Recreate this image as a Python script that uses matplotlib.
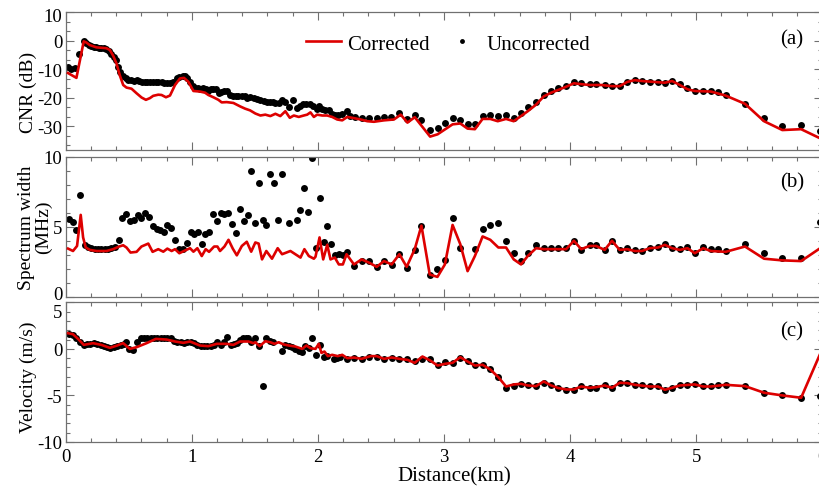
import matplotlib
matplotlib.use('Agg')
import matplotlib.pyplot as plt
from matplotlib.ticker import MultipleLocator
from matplotlib.lines import Line2D
from matplotlib.transforms import ScaledTranslation

plt.rcParams['font.family'] = ['Liberation Serif', 'DejaVu Serif']
plt.rcParams['axes.unicode_minus'] = False

# ---- (a) CNR ----
cnr_dist_unc = [0.019, 0.045, 0.072, 0.106, 0.143, 0.164, 0.186, 0.204, 0.225, 0.244, 0.265, 0.283, 0.305, 0.323,
                0.345, 0.363, 0.382, 0.397, 0.416, 0.429, 0.456, 0.477, 0.498, 0.517, 0.541, 0.562, 0.583, 0.602,
                0.628, 0.647, 0.668, 0.689, 0.713, 0.734, 0.760, 0.779, 0.800, 0.827, 0.853, 0.880, 0.901, 0.927,
                0.946, 0.965, 0.986, 1.007, 1.026, 1.047, 1.065, 1.092, 1.110, 1.131, 1.150, 1.171, 1.192, 1.214,
                1.230, 1.256, 1.277, 1.304, 1.330, 1.351, 1.370, 1.396, 1.423, 1.441, 1.464, 1.490, 1.517, 1.544,
                1.570, 1.597, 1.618, 1.644, 1.663, 1.689, 1.716, 1.742, 1.769, 1.803, 1.835, 1.862, 1.883, 1.909,
                1.936, 1.962, 1.989, 2.010, 2.034, 2.060, 2.087, 2.108, 2.134, 2.161, 2.193, 2.227, 2.254, 2.291,
                2.352, 2.405, 2.466, 2.524, 2.582, 2.646, 2.710, 2.768, 2.821, 2.890, 2.949, 3.007, 3.068, 3.129,
                3.187, 3.245, 3.306, 3.367, 3.426, 3.492, 3.553, 3.611, 3.664, 3.730, 3.791, 3.850, 3.908, 3.969,
                4.030, 4.088, 4.154, 4.207, 4.274, 4.332, 4.393, 4.454, 4.512, 4.570, 4.631, 4.698, 4.751, 4.809,
                4.870, 4.931, 4.989, 5.055, 5.116, 5.175, 5.233, 5.387, 5.538, 5.683, 5.832, 5.983]
cnr_unc = [-9.2, -9.8, -9.4, -4.6, -0.2, -0.8, -1.4, -1.8, -2.2, -2.3, -2.4, -2.5, -2.6, -2.9,
           -3.5, -4.6, -5.7, -6.9, -9.2, -10.9, -12.4, -13.0, -13.6, -13.8, -14.1, -13.8, -14.1, -14.4,
           -14.5, -14.5, -14.4, -14.4, -14.5, -14.6, -14.6, -14.7, -14.7, -14.7, -14.5, -13.2, -12.6, -12.3,
           -12.4, -13.2, -14.4, -15.9, -16.4, -16.6, -16.8, -16.7, -16.9, -17.5, -17.0, -16.9, -16.8, -18.4,
           -17.9, -17.5, -17.6, -19.0, -19.5, -19.3, -19.3, -19.5, -19.5, -19.9, -19.8, -20.1, -20.5, -20.9,
           -21.0, -21.3, -21.4, -21.5, -21.8, -21.8, -20.9, -21.6, -23.2, -20.9, -23.7, -22.8, -22.2, -22.2,
           -22.2, -23.0, -23.9, -23.0, -23.9, -24.1, -24.4, -25.5, -25.9, -25.9, -25.5, -24.7, -26.2, -26.7,
           -27.0, -27.0, -27.0, -26.7, -26.7, -25.3, -27.4, -26.1, -27.8, -31.3, -30.7, -29.0, -27.2, -27.8,
           -29.3, -29.3, -26.4, -25.9, -26.4, -26.1, -27.0, -25.3, -23.3, -21.5, -19.0, -17.5, -16.7, -15.9,
           -14.6, -14.7, -15.3, -15.2, -15.5, -15.9, -15.9, -14.4, -13.8, -14.1, -14.5, -14.6, -14.9, -14.1,
           -15.3, -16.7, -17.6, -17.6, -17.6, -18.0, -18.9, -22.1, -27.0, -29.9, -29.5, -31.6]

cnr_dist_cor = [0.018, 0.085, 0.143, 0.164, 0.191, 0.244, 0.323, 0.350, 0.376, 0.403, 0.429, 0.456, 0.482, 0.522,
                0.562, 0.602, 0.636, 0.668, 0.694, 0.734, 0.760, 0.795, 0.827, 0.867, 0.906, 0.938, 0.973, 1.013,
                1.065, 1.105, 1.131, 1.171, 1.211, 1.237, 1.277, 1.330, 1.383, 1.423, 1.462, 1.504, 1.544, 1.583,
                1.623, 1.663, 1.702, 1.742, 1.777, 1.809, 1.848, 1.888, 1.915, 1.941, 1.968, 1.994, 2.034, 2.074,
                2.113, 2.153, 2.193, 2.233, 2.272, 2.339, 2.392, 2.444, 2.524, 2.603, 2.657, 2.710, 2.768, 2.890,
                2.949, 3.068, 3.129, 3.187, 3.245, 3.306, 3.367, 3.426, 3.492, 3.553, 3.611, 3.664, 3.730, 3.791,
                3.850, 3.908, 3.969, 4.030, 4.088, 4.154, 4.247, 4.332, 4.393, 4.454, 4.512, 4.570, 4.751, 4.809,
                4.870, 4.931, 4.989, 5.116, 5.233, 5.387, 5.538, 5.683, 5.832, 5.997]
cnr_cor = [-11.3, -13.0, -0.2, -0.6, -1.5, -2.3, -2.6, -3.2, -5.2, -8.0, -12.1, -15.5, -16.4, -16.8,
           -18.4, -19.9, -20.7, -20.1, -19.3, -18.9, -19.0, -19.8, -19.2, -15.5, -13.2, -13.0, -14.4, -17.6,
           -17.8, -18.2, -19.0, -19.8, -20.7, -21.6, -21.5, -21.8, -23.0, -23.8, -24.4, -25.5, -26.2, -25.9,
           -26.4, -25.6, -26.4, -24.7, -27.0, -26.2, -26.7, -26.2, -25.9, -25.1, -26.7, -25.9, -26.2, -26.2,
           -26.7, -27.6, -27.9, -26.7, -27.0, -27.6, -28.2, -28.4, -27.9, -27.6, -25.9, -28.7, -26.8, -33.6,
           -32.8, -29.3, -29.0, -30.8, -31.0, -27.4, -27.4, -28.2, -27.4, -28.2, -26.4, -24.7, -22.4, -19.5,
           -18.2, -17.2, -16.1, -14.9, -15.2, -15.5, -15.5, -15.9, -15.9, -14.4, -13.8, -14.1, -14.7, -14.1,
           -15.5, -17.0, -17.6, -17.8, -19.2, -22.1, -28.2, -31.3, -31.0, -34.5]

# ---- (b) spectrum width ----
sw_dist_unc = [0.026, 0.058, 0.085, 0.117, 0.151, 0.178, 0.204, 0.231, 0.257, 0.283, 0.310, 0.337, 0.363, 0.390,
               0.419, 0.445, 0.477, 0.509, 0.541, 0.570, 0.601, 0.628, 0.660, 0.689, 0.721, 0.747, 0.779, 0.806,
               0.837, 0.867, 0.901, 0.927, 0.959, 0.991, 1.018, 1.052, 1.079, 1.105, 1.140, 1.171, 1.198, 1.230,
               1.259, 1.291, 1.317, 1.349, 1.383, 1.410, 1.442, 1.470, 1.504, 1.536, 1.565, 1.591, 1.623, 1.655,
               1.684, 1.716, 1.774, 1.835, 1.862, 1.893, 1.922, 1.954, 1.986, 2.015, 2.047, 2.074, 2.105, 2.134,
               2.166, 2.198, 2.227, 2.286, 2.346, 2.405, 2.466, 2.524, 2.585, 2.646, 2.704, 2.768, 2.821, 2.887,
               2.948, 3.006, 3.068, 3.129, 3.245, 3.306, 3.367, 3.431, 3.492, 3.553, 3.611, 3.664, 3.730, 3.791,
               3.850, 3.908, 3.969, 4.030, 4.088, 4.154, 4.207, 4.274, 4.332, 4.393, 4.454, 4.512, 4.570, 4.631,
               4.698, 4.751, 4.809, 4.870, 4.931, 4.989, 5.055, 5.116, 5.175, 5.233, 5.387, 5.538, 5.683, 5.832,
               5.983]
sw_unc = [5.54, 5.35, 4.77, 7.23, 3.69, 3.55, 3.45, 3.42, 3.38, 3.42, 3.38, 3.42, 3.47, 3.57,
          4.05, 5.61, 5.91, 5.42, 5.47, 5.79, 5.59, 5.95, 5.66, 5.06, 4.82, 4.77, 4.63, 5.11,
          4.87, 4.05, 3.38, 3.38, 3.79, 4.58, 4.46, 4.58, 3.74, 4.46, 4.58, 5.86, 5.42, 5.95,
          5.91, 5.95, 5.18, 4.51, 6.27, 5.37, 5.79, 8.99, 5.23, 8.14, 5.47, 5.11, 8.74, 8.14,
          5.47, 8.74, 5.23, 5.47, 6.15, 7.78, 6.02, 9.92, 3.45, 7.04, 3.86, 5.01, 3.74, 2.94,
          3.07, 2.94, 3.19, 2.17, 2.53, 2.53, 2.12, 2.53, 2.22, 3.07, 2.01, 3.33, 5.01, 1.57,
          1.93, 2.61, 5.59, 3.45, 3.38, 4.82, 5.11, 5.25, 3.98, 3.09, 2.53, 3.09, 3.69, 3.50,
          3.45, 3.45, 3.45, 3.98, 3.33, 3.66, 3.66, 3.30, 3.98, 3.33, 3.45, 3.30, 3.25, 3.50,
          3.57, 3.74, 3.50, 3.38, 3.55, 3.09, 3.57, 3.38, 3.38, 3.25, 3.74, 3.14, 2.73, 2.73,
          5.35]

sw_dist_cor = [0.019, 0.058, 0.090, 0.119, 0.138, 0.159, 0.191, 0.244, 0.323, 0.376, 0.424, 0.456, 0.482, 0.514,
               0.562, 0.601, 0.655, 0.689, 0.734, 0.774, 0.806, 0.840, 0.867, 0.901, 0.938, 0.986, 1.013, 1.044,
               1.079, 1.110, 1.137, 1.177, 1.203, 1.224, 1.259, 1.291, 1.325, 1.357, 1.397, 1.436, 1.471, 1.504,
               1.530, 1.557, 1.591, 1.636, 1.681, 1.716, 1.782, 1.862, 1.893, 1.928, 1.968, 1.981, 2.013, 2.042,
               2.074, 2.100, 2.134, 2.166, 2.198, 2.227, 2.286, 2.346, 2.405, 2.466, 2.524, 2.585, 2.646, 2.704,
               2.768, 2.821, 2.887, 2.948, 3.007, 3.068, 3.129, 3.187, 3.245, 3.306, 3.367, 3.431, 3.492, 3.553,
               3.611, 3.664, 3.730, 3.791, 3.969, 4.030, 4.088, 4.154, 4.207, 4.274, 4.332, 4.393, 4.454, 4.512,
               4.570, 4.631, 4.698, 4.751, 4.809, 4.870, 4.931, 4.989, 5.055, 5.116, 5.233, 5.387, 5.538, 5.683,
               5.832, 5.983, 6.000]
sw_cor = [3.42, 3.25, 3.61, 5.83, 4.22, 3.50, 3.33, 3.25, 3.25, 3.38, 3.57, 3.66, 3.50, 3.14,
          3.19, 3.57, 3.78, 3.19, 3.38, 3.20, 3.42, 3.25, 3.38, 3.09, 3.25, 3.45, 3.20, 3.45,
          2.89, 3.38, 3.19, 3.57, 3.57, 3.25, 3.57, 4.05, 3.42, 2.94, 3.61, 3.91, 3.20, 3.86,
          3.78, 2.65, 3.25, 2.70, 3.45, 3.02, 3.25, 2.78, 3.38, 2.89, 2.70, 2.84, 4.22, 2.65,
          3.69, 2.65, 2.78, 2.29, 2.29, 3.02, 2.29, 2.65, 2.42, 2.12, 2.53, 2.29, 3.02, 2.12,
          3.38, 5.06, 1.57, 1.40, 2.29, 5.11, 3.74, 1.81, 2.89, 4.29, 4.05, 3.50, 3.50, 2.65,
          2.29, 2.89, 3.45, 3.38, 3.38, 3.98, 3.38, 3.61, 3.61, 3.33, 3.98, 3.33, 3.38, 3.25,
          3.25, 3.45, 3.50, 3.69, 3.45, 3.33, 3.45, 3.09, 3.45, 3.25, 3.19, 3.57, 2.70, 2.58,
          2.53, 3.45, 5.05]

# ---- (c) velocity ----
vel_dist_unc = [0.027, 0.058, 0.085, 0.117, 0.143, 0.170, 0.196, 0.223, 0.249, 0.276, 0.302, 0.329, 0.355, 0.382,
                0.408, 0.435, 0.461, 0.482, 0.503, 0.530, 0.567, 0.594, 0.620, 0.647, 0.673, 0.700, 0.726, 0.753,
                0.779, 0.806, 0.832, 0.859, 0.885, 0.912, 0.938, 0.965, 0.991, 1.018, 1.044, 1.071, 1.097, 1.124,
                1.150, 1.177, 1.203, 1.230, 1.256, 1.283, 1.309, 1.336, 1.362, 1.383, 1.405, 1.426, 1.447, 1.468,
                1.500, 1.532, 1.565, 1.591, 1.618, 1.644, 1.716, 1.742, 1.769, 1.795, 1.822, 1.848, 1.875, 1.896,
                1.928, 1.954, 1.986, 2.015, 2.047, 2.074, 2.127, 2.153, 2.179, 2.227, 2.286, 2.346, 2.405, 2.466,
                2.524, 2.585, 2.646, 2.710, 2.768, 2.829, 2.890, 2.949, 3.007, 3.068, 3.129, 3.187, 3.245, 3.306,
                3.367, 3.431, 3.492, 3.553, 3.611, 3.664, 3.730, 3.791, 3.850, 3.908, 3.969, 4.030, 4.088, 4.154,
                4.207, 4.274, 4.332, 4.393, 4.454, 4.512, 4.570, 4.631, 4.698, 4.751, 4.809, 4.870, 4.931, 4.989,
                5.055, 5.116, 5.175, 5.233, 5.387, 5.538, 5.683, 5.832, 5.983]
vel_unc = [1.61, 1.50, 1.15, 0.79, 0.43, 0.47, 0.54, 0.61, 0.54, 0.43, 0.29, 0.18, 0.11, 0.18,
           0.36, 0.43, 0.47, 0.79, 0.00, -0.07, 0.79, 1.18, 1.18, 1.18, 1.18, 1.18, 1.18, 1.18,
           1.18, 1.18, 1.15, 0.89, 0.79, 0.71, 0.65, 0.71, 0.79, 0.65, 0.43, 0.36, 0.29, 0.29,
           0.36, 0.43, 0.79, 0.43, 0.79, 1.25, 0.43, 0.47, 0.65, 1.00, 1.15, 1.21, 1.21, 0.71,
           1.18, 0.29, -4.03, 1.18, 0.89, 0.71, -0.18, 0.43, 0.36, 0.25, 0.00, -0.18, -0.35, 0.36,
           0.07, 1.15, -0.64, 0.43, -0.89, -0.78, -1.07, -1.00, -0.89, -1.14, -1.00, -1.14, -0.89, -0.89,
           -1.14, -1.00, -1.14, -1.14, -1.32, -1.07, -1.14, -1.71, -1.36, -1.50, -1.00, -1.25, -1.71, -1.71,
           -2.14, -3.04, -4.21, -4.00, -3.75, -3.93, -4.00, -3.64, -3.93, -4.21, -4.39, -4.39, -4.04, -4.18,
           -4.18, -3.93, -4.18, -3.68, -3.68, -3.86, -3.93, -4.04, -4.04, -4.46, -4.21, -3.93, -3.93, -3.82,
           -4.04, -4.04, -3.93, -3.93, -4.04, -4.71, -5.00, -5.25, -5.07]

vel_dist_cor = [0.019, 0.058, 0.098, 0.143, 0.217, 0.283, 0.350, 0.408, 0.456, 0.509, 0.562, 0.641, 0.715, 0.800,
                0.867, 0.933, 0.986, 1.065, 1.131, 1.198, 1.277, 1.330, 1.383, 1.450, 1.489, 1.504, 1.538, 1.583,
                1.623, 1.655, 1.689, 1.729, 1.769, 1.822, 1.875, 1.909, 1.941, 1.981, 2.007, 2.028, 2.052, 2.079,
                2.113, 2.158, 2.193, 2.233, 2.286, 2.346, 2.418, 2.466, 2.524, 2.585, 2.646, 2.710, 2.768, 2.829,
                2.890, 2.949, 3.007, 3.068, 3.129, 3.187, 3.245, 3.306, 3.367, 3.431, 3.492, 3.553, 3.611, 3.664,
                3.730, 3.791, 3.850, 3.908, 3.969, 4.030, 4.088, 4.154, 4.207, 4.274, 4.332, 4.393, 4.454, 4.512,
                4.631, 4.698, 4.751, 4.809, 4.870, 4.989, 5.055, 5.116, 5.233, 5.387, 5.538, 5.683, 5.832, 6.000]
vel_cor = [1.68, 1.57, 1.07, 0.43, 0.61, 0.43, 0.11, 0.36, 0.61, 0.00, 0.18, 0.61, 1.07, 1.00,
           0.79, 0.65, 0.79, 0.36, 0.29, 0.54, 0.54, 0.43, 0.79, 0.79, 0.61, 0.71, 0.29, 0.82,
           0.71, 0.54, 0.71, 0.47, 0.36, 0.25, 0.00, 0.36, 0.07, 0.00, 0.54, -0.43, -0.29, -0.78,
           -0.64, -0.78, -0.64, -1.00, -0.93, -1.07, -0.78, -0.78, -1.07, -0.93, -1.07, -1.18, -1.50, -0.82,
           -1.25, -1.79, -1.61, -1.50, -0.89, -1.36, -1.79, -1.71, -2.21, -3.04, -4.04, -3.82, -3.75, -3.93,
           -4.00, -3.50, -3.93, -4.21, -4.36, -4.36, -4.04, -4.18, -4.11, -3.93, -4.18, -3.64, -3.68, -3.86,
           -4.04, -4.04, -4.39, -4.18, -3.93, -3.82, -4.04, -4.04, -3.86, -4.00, -4.71, -5.00, -5.25, 0.00]

red = '#dd0000'
gray = '#707070'

fig = plt.figure(figsize=(8.2, 4.89), dpi=100)
left, width = 65.7 / 820, 756.6 / 820
ax1 = fig.add_axes([left, 1 - 151 / 489, width, 137.7 / 489])
ax2 = fig.add_axes([left, 1 - 297.5 / 489, width, 140 / 489])
ax3 = fig.add_axes([left, 1 - 443 / 489, width, 139.7 / 489])

panels = [
    (ax1, cnr_dist_unc, cnr_unc, cnr_dist_cor, cnr_cor),
    (ax2, sw_dist_unc, sw_unc, sw_dist_cor, sw_cor),
    (ax3, vel_dist_unc, vel_unc, vel_dist_cor, vel_cor),
]
for ax, xu, yu, xc, yc in panels:
    ax.plot(xu, yu, 'o', color='black', ms=5, mew=0, zorder=2)
    ax.plot(xc, yc, '-', color=red, lw=1.9, zorder=3)
    ax.set_xlim(0, 6)
    ax.xaxis.set_major_locator(MultipleLocator(1))
    ax.xaxis.set_minor_locator(MultipleLocator(0.2))
    ax.tick_params(which='both', direction='in', top=True, right=True, color=gray, width=0.8,
                   labelsize=13.5)
    ax.tick_params(which='major', length=6)
    ax.tick_params(which='minor', length=3)
    ax.tick_params(axis='y', pad=2.5)
    ax.tick_params(axis='x', pad=4)
    for s in ax.spines.values():
        s.set_color(gray)
        s.set_linewidth(0.9)

ax1.set_ylim(-38.3, 10)
ax1.set_yticks([-30, -20, -10, 0, 10])
ax1.yaxis.set_minor_locator(MultipleLocator(10 / 3))
ax2.set_ylim(0, 10)
ax2.set_yticks([0, 5, 10])
ax2.yaxis.set_minor_locator(MultipleLocator(1))
ax3.set_ylim(-10, 5)
ax3.set_yticks([-10, -5, 0, 5])
ax3.yaxis.set_minor_locator(MultipleLocator(1))

ax1.tick_params(labelbottom=False)
ax2.tick_params(labelbottom=False)

# edge labels nudged inside like the original
def nudge(tick, dy_px):
    t = tick.label1
    t.set_transform(t.get_transform() + ScaledTranslation(0, dy_px / 100, fig.dpi_scale_trans))

nudge(ax1.yaxis.get_major_ticks()[-1], -2)
nudge(ax2.yaxis.get_major_ticks()[0], 4)
nudge(ax3.yaxis.get_major_ticks()[-1], -8)

ax1.set_ylabel('CNR (dB)', fontsize=14, va='center')
ax1.yaxis.set_label_coords(-0.05, 0.425)
ax2.set_ylabel('Spectrum width\n(MHz)', fontsize=14, va='center', linespacing=1.0)
ax2.yaxis.set_label_coords(-0.0405, 0.5)
ax3.set_ylabel('Velocity (m/s)', fontsize=14, va='center')
ax3.yaxis.set_label_coords(-0.05, 0.469)
ax3.set_xlabel('Distance(km)', fontsize=15)
ax3.xaxis.set_label_coords(0.513, -0.175)

ax1.text(0.96, 0.806, '(a)', transform=ax1.transAxes, fontsize=15, ha='center', va='center')
ax2.text(0.96, 0.816, '(b)', transform=ax2.transAxes, fontsize=15, ha='center', va='center')
ax3.text(0.96, 0.797, '(c)', transform=ax3.transAxes, fontsize=15, ha='center', va='center')

handles = [Line2D([], [], color=red, lw=1.9),
           Line2D([], [], marker='o', ls='none', color='black', ms=3.5, mew=0)]
ax1.legend(handles, ['Corrected', 'Uncorrected'], ncol=2, frameon=False, fontsize=15,
           loc='center', bbox_to_anchor=(0.505, 0.77), handlelength=1.7, handletextpad=0.3,
           columnspacing=0.7)

fig.savefig('out.png', dpi=100)
